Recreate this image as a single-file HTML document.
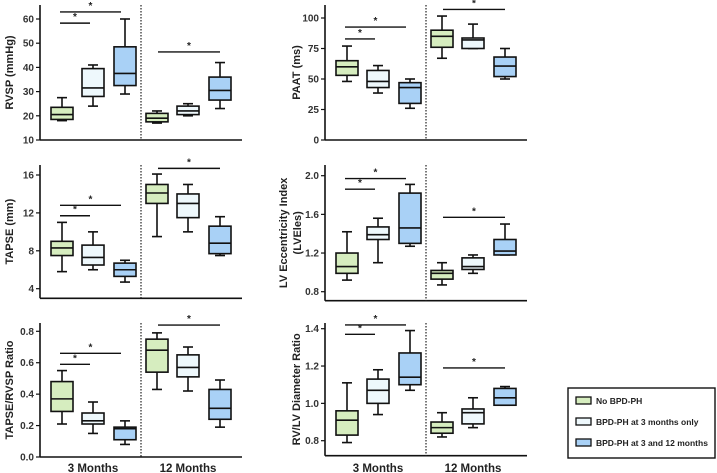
<!DOCTYPE html>
<html><head><meta charset="utf-8"><style>
body{margin:0;background:#fff;font-family:"Liberation Sans",Arial,sans-serif}
svg{display:block}
text{font-family:"Liberation Sans",Arial,sans-serif;font-weight:bold}
</style></head><body>
<svg id="c" width="717" height="473" viewBox="0 0 717 473"></svg>
<script>
// groups: 0 No BPD-PH, 1 BPD-PH at 3 months only, 2 BPD-PH at 3 and 12 months; per panel 6 boxes: 3M g0,g1,g2, 12M g0,g1,g2
const groupNames = ["No BPD-PH","BPD-PH at 3 months only","BPD-PH at 3 and 12 months"];
const timeLabels = ["3 Months","12 Months"];
// [min,q1,median,q3,max]
const rvspBoxes = [[18,18.5,20.5,23.5,27.5],[24,28,31.5,39.5,41],[29,32.5,37.5,48.5,60],[17,17.5,19,21,22],[20,20.5,22,24,25],[23,26.5,30.5,36,42]];
const paatBoxes = [[48,53,60,65,77],[38.5,43,48,57,61],[26,30,43,47,50],[67,76,85,90,101.6],[75,75,82,83.6,95],[50,52,60.6,68,75]];
const tapseBoxes = [[5.8,7.5,8.3,9.0,11.0],[6.0,6.5,7.3,8.6,10],[4.7,5.3,6.0,6.7,7.0],[9.5,13.0,14.1,15.0,16.1],[10,11.5,13.0,14.0,15],[7.5,7.7,8.8,10.6,11.6]];
const lveiBoxes = [[0.92,0.99,1.06,1.20,1.42],[1.10,1.34,1.39,1.47,1.56],[1.27,1.30,1.46,1.82,1.91],[0.87,0.93,0.99,1.02,1.10],[0.99,1.03,1.06,1.15,1.18],[1.18,1.18,1.22,1.34,1.50]];
const ratioBoxes = [[0.21,0.29,0.37,0.48,0.55],[0.15,0.21,0.23,0.28,0.35],[0.08,0.11,0.18,0.19,0.23],[0.43,0.54,0.68,0.75,0.79],[0.42,0.51,0.57,0.65,0.70],[0.19,0.24,0.31,0.43,0.49]];
const rvlvBoxes = [[0.79,0.83,0.91,0.96,1.11],[0.94,1.00,1.07,1.13,1.18],[1.07,1.10,1.14,1.27,1.39],[0.82,0.84,0.87,0.90,0.95],[0.87,0.89,0.95,0.97,1.03],[0.99,0.99,1.03,1.08,1.09]];
// significance bar heights (data units): [3M pair1, 3M pair2, 12M]
const rvspSig = [58.3,62.9,46.4];
const paatSig = [82.8,92.6,107];
const tapseSig = [11.7,12.8,16.7];
const lveiSig = [1.86,1.97,1.57];
const ratioSig = [0.59,0.66,0.84];
const rvlvSig = [1.37,1.42,1.19];
const rvspTicks = [10,20,30,40,50,60];
const paatTicks = [0,25,50,75,100];
const tapseTicks = [4,8,12,16];
const lveiTicks = [0.8,1.2,1.6,2.0];
const ratioTicks = [0.0,0.2,0.4,0.6,0.8];
const rvlvTicks = [0.8,1.0,1.2,1.4];

const NS="http://www.w3.org/2000/svg";
const svg=document.getElementById('c');
const fills=["#d6edbf","#eef8fc","#a9d1f6"];
function mk(tag,attrs,parent){const e=document.createElementNS(NS,tag);for(const k in attrs)e.setAttribute(k,attrs[k]);(parent||svg).appendChild(e);return e;}

const panels=[
 {name:"rvsp",title:["RVSP (mmHg)"],tx:9,ax:40,top:5,bot:140,v0:10,v1:60,y1px:19,boxes:rvspBoxes,sig:rvspSig,ticks:rvspTicks,dec:0},
 {name:"paat",title:["PAAT (ms)"],tx:296,ax:325,top:5,bot:140,v0:0,v1:100,y1px:18,boxes:paatBoxes,sig:paatSig,ticks:paatTicks,dec:0},
 {name:"tapse",title:["TAPSE (mm)"],tx:9,ax:40,top:165,bot:298.3,v0:4,v1:16,y0px:288.7,y1px:175,boxes:tapseBoxes,sig:tapseSig,ticks:tapseTicks,dec:0},
 {name:"lvei",title:["LV Eccentricity Index","(LVEles)"],tx:283,ax:325,top:165,bot:300.7,v0:0.8,v1:2.0,y0px:291.7,y1px:175.7,boxes:lveiBoxes,sig:lveiSig,ticks:lveiTicks,dec:1},
 {name:"tapse-rvsp",title:["TAPSE/RVSP Ratio"],tx:9,ax:40,top:323,bot:457,v0:0,v1:0.8,y1px:331.3,boxes:ratioBoxes,sig:ratioSig,ticks:ratioTicks,dec:1,xl:true},
 {name:"rvlv",title:["RV/LV Diameter Ratio"],tx:296,ax:325,top:323,bot:455.7,v0:0.8,v1:1.4,y0px:440.7,y1px:328.7,boxes:rvlvBoxes,sig:rvlvSig,ticks:rvlvTicks,dec:1,xl:true}
];
const rel=[22,53,85,117,148,180];
panels.forEach(p=>{
 const g=mk('g',{});
 
 
 const y0px=p.y0px!==undefined?p.y0px:p.bot;
 const Y=v=>y0px+(v-p.v0)/(p.v1-p.v0)*(p.y1px-y0px);
 const X=i=>p.ax+rel[i];
 // axes
 const ya=mk('line',{x1:p.ax,x2:p.ax,y1:p.top,y2:p.bot,stroke:'#111','stroke-width':1.6},g);
 
 const xa=mk('line',{x1:p.ax,x2:p.ax+202,y1:p.bot,y2:p.bot,stroke:'#111','stroke-width':1.6},g);
 
 const dv=mk('line',{x1:p.ax+101,x2:p.ax+101,y1:p.top,y2:p.bot,stroke:'#222','stroke-width':1.2,'stroke-dasharray':'1.5,1.5'},g);
 
 p.ticks.forEach(t=>{
  const y=Y(t);
  mk('line',{x1:p.ax-4,x2:p.ax,y1:y,y2:y,stroke:'#111','stroke-width':1.2},g);
  const tl=mk('text',{x:p.ax-6,y:y+3.5,'text-anchor':'end','font-size':10,fill:'#333'},g);
  tl.textContent=t.toFixed(p.dec);
  
 });
 // title
 const cy=(p.top+p.bot)/2;
 p.title.forEach((s,k)=>{
  const tx=p.tx+k*14;
  const t=mk('text',{x:tx,y:cy,'text-anchor':'middle','font-size':11,fill:'#222',transform:`rotate(-90 ${tx} ${cy})`,dy:4},g);
  t.textContent=s;
  
 });
 // boxes
 p.boxes.forEach((b,i)=>{
  const cx=X(i),w=22,col=fills[i%3];
  const bg=mk('g',{},g);
  
  
  mk('line',{x1:cx,x2:cx,y1:Y(b[4]),y2:Y(b[3]),stroke:'#111','stroke-width':1.6},bg);
  mk('line',{x1:cx,x2:cx,y1:Y(b[1]),y2:Y(b[0]),stroke:'#111','stroke-width':1.6},bg);
  mk('line',{x1:cx-5,x2:cx+5,y1:Y(b[4]),y2:Y(b[4]),stroke:'#111','stroke-width':1.6},bg);
  mk('line',{x1:cx-5,x2:cx+5,y1:Y(b[0]),y2:Y(b[0]),stroke:'#111','stroke-width':1.6},bg);
  mk('rect',{x:cx-w/2,y:Y(b[3]),width:w,height:Math.max(1,Y(b[1])-Y(b[3])),fill:col,stroke:'#111','stroke-width':1.6},bg);
  mk('line',{x1:cx-w/2,x2:cx+w/2,y1:Y(b[2]),y2:Y(b[2]),stroke:'#111','stroke-width':1.6},bg);
 });
 // significance
 const pairs=[[20,50],[20,81],[118,180]];
 p.sig.forEach((v,k)=>{
  const y=Y(v);
  const s=mk('line',{x1:p.ax+pairs[k][0],x2:p.ax+pairs[k][1],y1:y,y2:y,stroke:'#111','stroke-width':1.4},g);
  
  const st=mk('text',{x:p.ax+(pairs[k][0]+pairs[k][1])/2,y:y-3,'text-anchor':'middle','font-size':10,fill:'#222'},g);
  st.textContent='*';
  
 });
 if(p.xl){
  timeLabels.forEach((s,k)=>{
   const t=mk('text',{x:p.ax+53+k*95,y:472,'text-anchor':'middle','font-size':11.5,fill:'#222'},g);
   t.textContent=s;
   
  });
 }
});
// legend
const lg=mk('g',{});


mk('rect',{x:568,y:388,width:147,height:70,fill:'#fff',stroke:'#111','stroke-width':1.4},lg);
groupNames.forEach((n,k)=>{
 const y=401+k*21;
 const e=mk('g',{},lg);
 
 
 mk('rect',{x:576,y:y-4,width:15,height:7,fill:fills[k],stroke:'#111','stroke-width':1.3},e);
 const t=mk('text',{x:596,y:y+3,'font-size':8.5,fill:'#222'},e);
 t.textContent=n;
});
</script>
</body></html>
